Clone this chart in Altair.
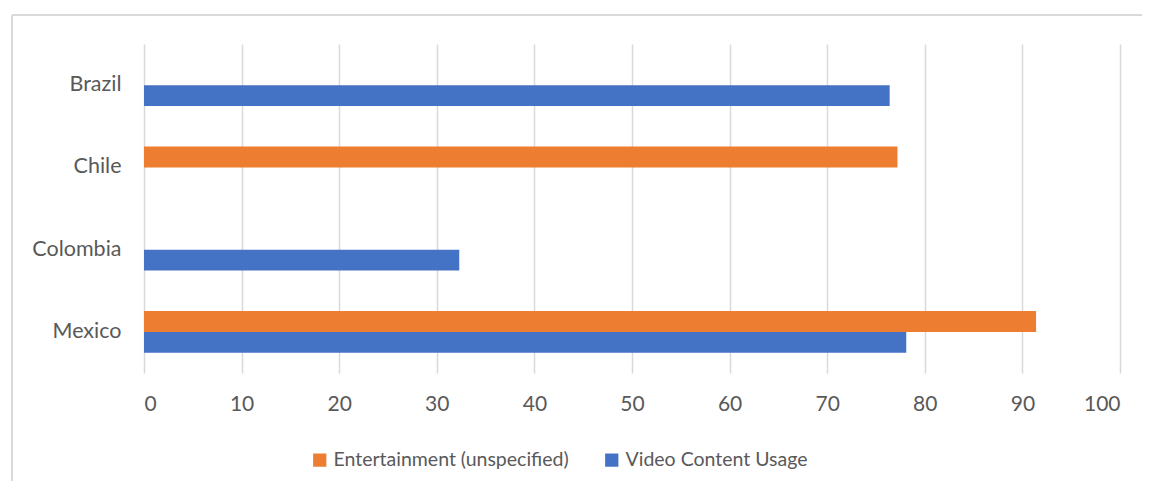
import altair as alt
import pandas as pd

countries = ["Brazil", "Chile", "Colombia", "Mexico"]
series = ["Entertainment (unspecified)", "Video Content Usage"]
entertainment = [None, 77.2, None, 91.4]
video = [76.4, None, 32.3, 78.1]
colors = ["#ED7D31", "#4472C4"]

rows = []
for c, e, v in zip(countries, entertainment, video):
    if e is not None:
        rows.append({"country": c, "series": series[0], "value": e})
    if v is not None:
        rows.append({"country": c, "series": series[1], "value": v})
df = pd.DataFrame(rows)

FONT = "Lato"
TXT = "#595959"

bars = alt.Chart(df).mark_bar().encode(
    y=alt.Y("country:N", sort=countries, title=None,
            scale=alt.Scale(paddingInner=0.49, paddingOuter=0.245),
            axis=alt.Axis(domain=False, ticks=False, labelPadding=23,
                          labelFontSize=21.5, labelColor=TXT, labelFont=FONT, grid=False)),
    yOffset=alt.YOffset("series:N", sort=series, scale=alt.Scale(domain=series, paddingInner=0, paddingOuter=0)),
    x=alt.X("value:Q", title=None,
            scale=alt.Scale(domain=[0, 100], nice=False),
            axis=alt.Axis(values=list(range(0, 101, 10)), domain=False, ticks=False,
                          labelPadding=20, labelFontSize=21, labelColor=TXT, labelFont=FONT,
                          grid=True, gridColor="#D9D9D9", gridWidth=1.5)),
    color=alt.Color("series:N", sort=series,
                    scale=alt.Scale(domain=series, range=colors),
                    legend=alt.Legend(title=None, orient="none", legendX=166, legendY=406,
                                      direction="horizontal", symbolType="square",
                                      symbolSize=175, symbolStrokeWidth=0,
                                      labelFontSize=19.5, labelColor=TXT, labelFont=FONT,
                                      labelOffset=4, columnPadding=33, labelLimit=400)),
)

border_top = alt.Chart(df).mark_rule(color="#D9D9D9", strokeWidth=1.5).encode(
    x=alt.value(-132), x2=alt.value(1010), y=alt.value(-29)
)
border_left = alt.Chart(df).mark_rule(color="#D9D9D9", strokeWidth=1.5).encode(
    x=alt.value(-132), y=alt.value(-29), y2=alt.value(440)
)

chart = alt.layer(border_top, border_left, bars).properties(
    width=976, height=329,
    autosize=alt.AutoSizeParams(type="none"),
    padding={"left": 136, "top": 36, "right": 22, "bottom": 108},
    background="white",
).configure_view(stroke=None)

chart.save("out.html", embed_options={"renderer": "svg", "actions": False})
